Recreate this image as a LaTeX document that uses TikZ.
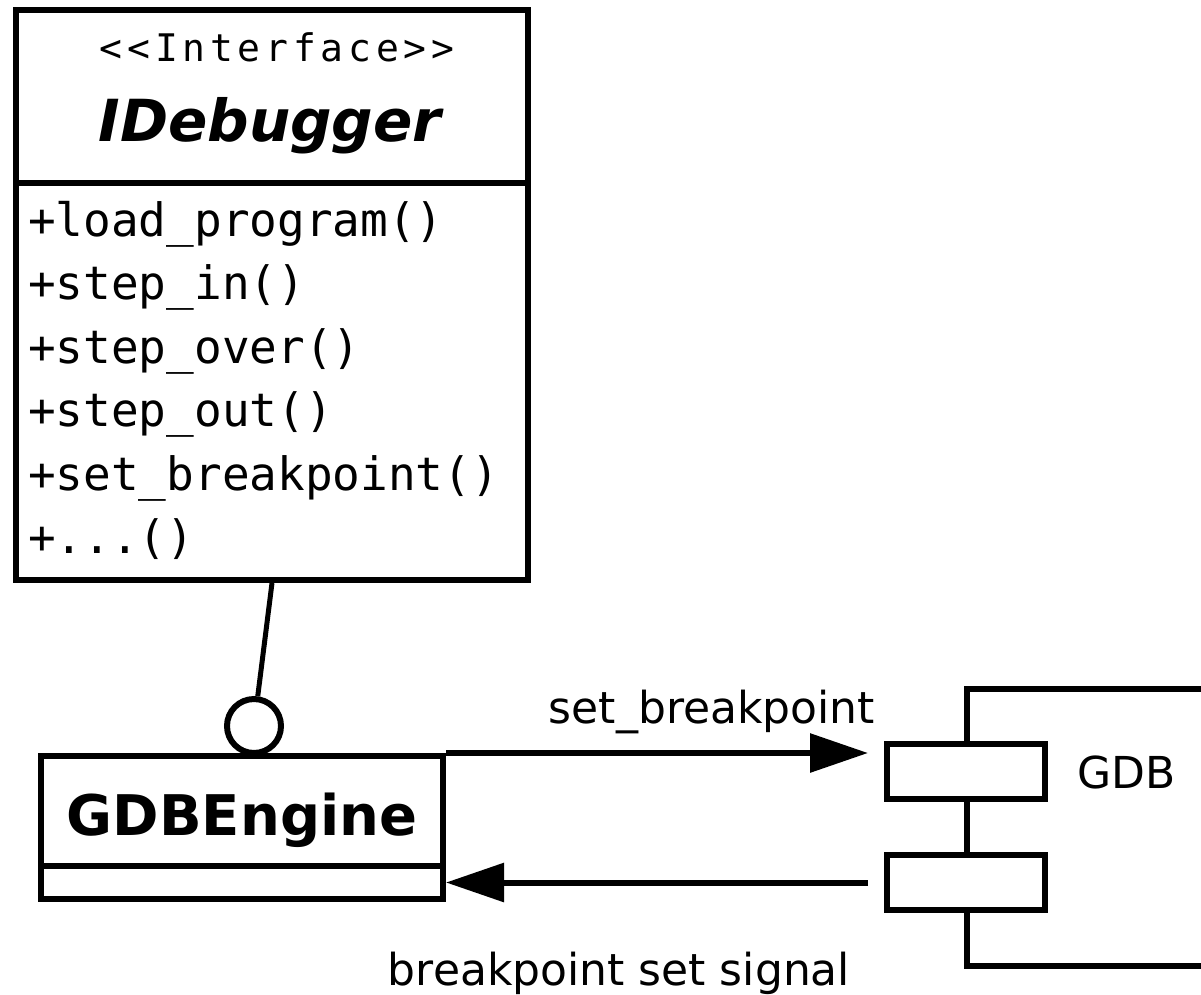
\documentclass[tikz,border=0pt]{standalone}
\usepackage{fontspec}
\setmainfont{DejaVu Sans}
\newfontfamily\opfont{DejaVu Sans Mono}
\newfontfamily\stereofont[LetterSpace=12.5]{DejaVu Sans Mono}
\usetikzlibrary{arrows.meta}

\begin{document}
\begin{tikzpicture}[x=1pt,y=-1pt,
  every node/.style={inner sep=0pt,font=\fontsize{44}{44}\selectfont},
  umlbox/.style={draw,line width=6pt,fill=white,rectangle},
  op/.style={anchor=base west,font=\opfont\fontsize{46}{46}\selectfont},
  msg/.style={line width=6pt,-{Triangle[length=58pt,width=38pt]}}]
  \useasboundingbox (0,0) rectangle (1201,994);

  % interface class
  \node[umlbox,minimum width=512pt,minimum height=570pt] (idbg) at (272,295) {};
  \draw[line width=6pt] (idbg.west |- 0,183) -- (idbg.east |- 0,183);
  \node[anchor=base,font=\stereofont\fontsize{38}{38}\selectfont] (stereo) at (277,61) {<<Interface>>};
  \node[anchor=base,font=\bfseries\itshape\fontsize{58}{58}\selectfont] (iname) at (270,141) {IDebugger};
  \node[op] (op1) at (28,236) {+load\_program()};
  \node[op] (op2) at (28,299.5) {+step\_in()};
  \node[op] (op3) at (28,363) {+step\_over()};
  \node[op] (op4) at (28,426.5) {+step\_out()};
  \node[op] (op5) at (28,490) {+set\_breakpoint()};
  \node[op] (op6) at (28,553.5) {+...()};

  % engine class with provided interface
  \node[umlbox,minimum width=402pt,minimum height=143pt] (gdbe) at (242,827.5) {};
  \draw[line width=6pt] (gdbe.west |- 0,866) -- (gdbe.east |- 0,866);
  \node[anchor=base,font=\bfseries\fontsize{56}{56}\selectfont] (ename) at (242,835) {GDBEngine};
  \node[draw,circle,line width=6pt,fill=white,minimum size=54pt] (ball) at (254,726) {};
  \draw[line width=5pt] (idbg.south) -- (ball);

  % GDB component
  \node[umlbox,minimum width=300pt,minimum height=277pt] (gdb) at (1117,827.5) {};
  \node[umlbox,minimum width=158pt,minimum height=55pt] (port1) at (966,771.5) {};
  \node[umlbox,minimum width=158pt,minimum height=55pt] (port2) at (966,882.5) {};
  \node[anchor=base west] (gname) at (1077,788) {GDB};

  % messages
  \draw[msg,shorten >=16pt] (gdbe.north east) -- (gdbe.north east -| port1.west);
  \node[anchor=base] (setlbl) at (712,723) {set\_breakpoint};
  \draw[msg,shorten <=16pt] (port2.west) -- (gdbe.east |- port2.west);
  \node[anchor=base] (siglbl) at (619,985) {breakpoint set signal};
\end{tikzpicture}
\end{document}
